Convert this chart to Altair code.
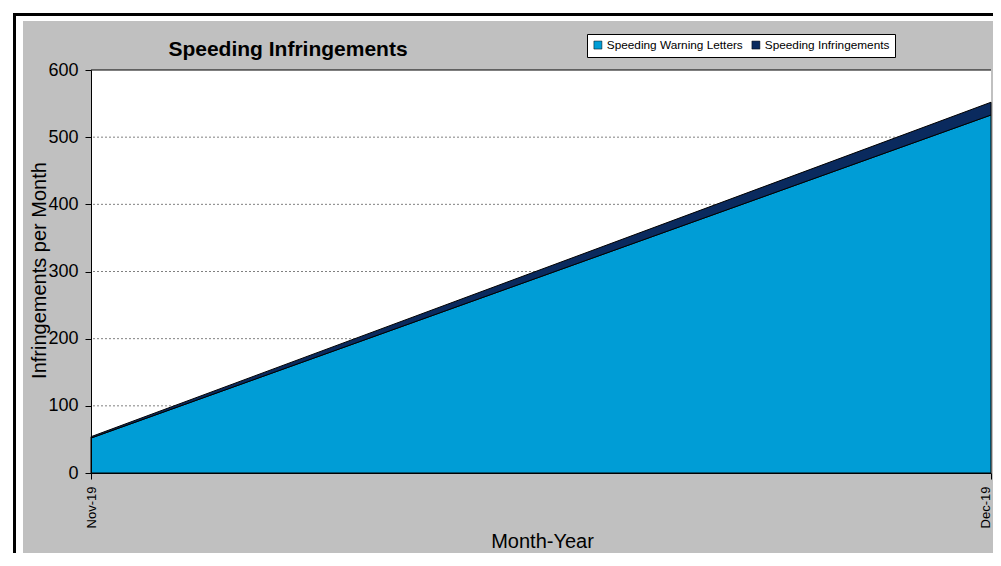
import altair as alt
import pandas as pd

# ---- data ----
months = ["Nov-19", "Dec-19"]
series = ["Speeding Warning Letters", "Speeding Infringements"]
warning_letters = [52, 533]
infringements = [2, 19]
y_ticks = [0, 100, 200, 300, 400, 500, 600]
grid_values = [100, 200, 300, 400, 500]
colors = ["#009DD6", "#0A2A5E"]
chart_title = "Speeding Infringements"

rows = []
for i, m in enumerate(months):
    rows.append({"month": m, "series": series[0], "value": warning_letters[i], "ord": 0})
    rows.append({"month": m, "series": series[1], "value": infringements[i], "ord": 1})
df = pd.DataFrame(rows)

W, H = 900, 403
FONT = "Liberation Sans"
one = pd.DataFrame({"k": [0]})
yscale = alt.Scale(domain=[0, 600], nice=False)

panel = alt.Chart(one).mark_rect(color="#C0C0C0").encode(
    x=alt.value(-68), x2=alt.value(W + 30), y=alt.value(-49), y2=alt.value(H + 120)
)
frame_h = alt.Chart(one).mark_rule(color="black", strokeWidth=3).encode(
    x=alt.value(-78), x2=alt.value(W + 30), y=alt.value(-55.5)
)
frame_v = alt.Chart(one).mark_rule(color="black", strokeWidth=3).encode(
    x=alt.value(-76.5), y=alt.value(-57), y2=alt.value(H + 120)
)
plotbg = alt.Chart(one).mark_rect(color="white").encode(
    x=alt.value(0), x2=alt.value(W), y=alt.value(0), y2=alt.value(H)
)
grid = alt.Chart(pd.DataFrame({"value": grid_values})).mark_rule(
    color="#808080", strokeDash=[2, 2], strokeWidth=1
).encode(y=alt.Y("value:Q", scale=yscale))

area = alt.Chart(df).mark_area(stroke="black", strokeWidth=1, opacity=1).encode(
    x=alt.X(
        "month:O",
        sort=months,
        scale=alt.Scale(type="point", padding=0),
        axis=alt.Axis(
            title="Month-Year",
            titleFont=FONT, titleFontSize=20, titleFontWeight="normal", titleColor="black",
            titleX=451, titleY=74, titleAlign="center", titleBaseline="alphabetic",
            labelAngle=270, labelFont=FONT, labelFontSize=13, labelColor="black",
            labelPadding=7, tickSize=6, tickColor="black", domainColor="black",
            labelOffset={"condition": {"test": "datum.value == 'Dec-19'", "value": -6}, "value": 0},
            grid=False, zindex=1,
        ),
    ),
    y=alt.Y(
        "value:Q",
        stack="zero",
        scale=yscale,
        axis=alt.Axis(
            values=y_ticks,
            title="Infringements per Month",
            titleFont=FONT, titleFontSize=20, titleFontWeight="normal", titleColor="black",
            titleAngle=270, titleX=-46, titleY=200, titleAlign="center", titleBaseline="alphabetic",
            labelFont=FONT, labelFontSize=18, labelColor="black", labelPadding=7,
            tickSize=6, tickColor="black", domainColor="black", grid=False, zindex=1,
            labelOverlap=False,
        ),
    ),
    color=alt.Color(
        "series:N",
        scale=alt.Scale(domain=series, range=colors),
        legend=alt.Legend(
            title=None, orient="none", legendX=496, legendY=-36, direction="horizontal",
            fillColor="white", strokeColor="black", padding=5, symbolType="square",
            symbolSize=64, symbolStrokeColor="black", symbolStrokeWidth=0.5,
            labelFont=FONT, labelFontSize=11.8, labelColor="black", labelOffset=3,
            columnPadding=7, zindex=1,
        ),
    ),
    order=alt.Order("ord:Q", sort="ascending"),
)

topline = alt.Chart(one).mark_rule(color="black", strokeWidth=1).encode(
    x=alt.value(0), x2=alt.value(W), y=alt.value(0)
)

title_text = alt.Chart(one).mark_text(
    text=chart_title, font=FONT, fontSize=21, fontWeight="bold", color="black",
    align="center", baseline="alphabetic",
).encode(x=alt.value(197), y=alt.value(-14.5))

chart = alt.layer(panel, frame_h, frame_v, plotbg, grid, area, topline, title_text).properties(
    width=W,
    height=H,
    padding={"left": 83, "top": 62, "right": 2, "bottom": 80},
    autosize=alt.AutoSizeParams(type="none"),
    background="white",
).configure_view(stroke="transparent")

chart.save("out.html", embed_options={"renderer": "svg", "actions": False})
